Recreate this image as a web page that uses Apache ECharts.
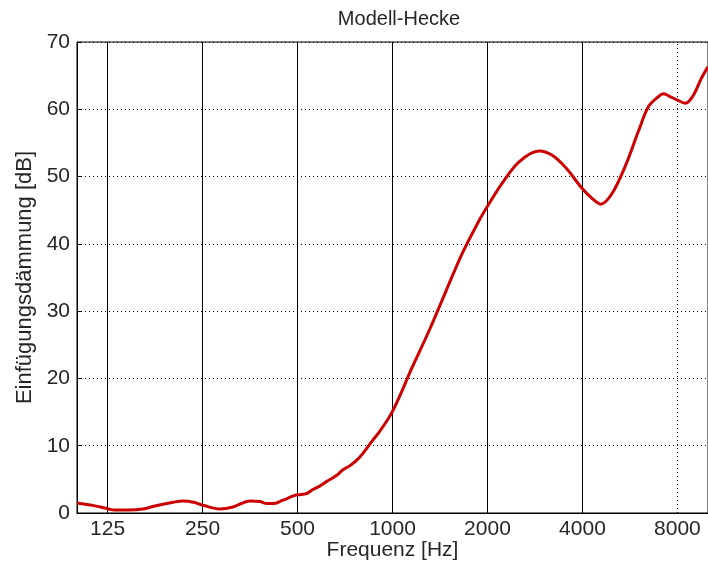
<!DOCTYPE html>
<html>
<head>
<meta charset="utf-8">
<script src="https://cdn.jsdelivr.net/npm/echarts@6/dist/echarts.min.js"></script>
<style>
html,body{margin:0;padding:0;background:#fff;}
#chart{width:708px;height:572px;}
</style>
</head>
<body>
<div id="chart"></div>
<script>
// Frequencies in Hz
const freq = [100, 113, 126, 131, 145, 162, 175, 202, 217, 234, 251, 284, 312, 354, 380, 400, 418, 449, 483, 500,
  535, 559, 588, 619, 666, 695, 732, 787, 865, 910, 1000, 1156, 1309, 1481, 1664, 1883, 2000, 2225, 2519, 2912,
  3200, 3544, 3981, 4281, 4571, 4952, 5483, 6026, 6478, 6969, 7230, 7496, 8061, 8484, 8990, 9526, 10000];
// Einfügungsdämmung in dB
const insertionLoss = [1.5, 1.1, 0.6, 0.45, 0.45, 0.6, 1.0, 1.6, 1.8, 1.6, 1.15, 0.6, 0.9, 1.8, 1.7, 1.4, 1.4, 1.9, 2.5, 2.7,
  2.9, 3.5, 4.0, 4.7, 5.6, 6.4, 7.0, 8.3, 10.8, 12.1, 15.1, 21.7, 27.2, 33.1, 38.6, 43.5, 45.6, 49.0, 52.2, 53.8,
  53.2, 51.3, 48.3, 46.8, 45.9, 47.4, 51.7, 56.8, 60.4, 61.9, 62.3, 62.0, 61.3, 60.9, 62.1, 64.6, 66.3];
// Octave tick positions and labels
const xTicks = [125, 250, 500, 1000, 2000, 4000, 8000];
const xTickLabels = ['125', '250', '500', '1000', '2000', '4000', '8000'];

const FONT = "'Liberation Sans', Arial, sans-serif";
const TXT = '#262626';

const chart = echarts.init(document.getElementById('chart'), null, {renderer: 'canvas'});

const markData = xTicks.map((v, i) => ({
  name: xTickLabels[i],
  xAxis: v,
  lineStyle: v === 8000 ? {type: [1, 3], color: '#000', width: 1} : {type: 'solid', color: '#000', width: 1}
}));

chart.setOption({
  animation: false,
  backgroundColor: '#fff',
  title: {
    text: 'Modell-Hecke',
    left: 394,
    textAlign: 'center',
    top: 4,
    textStyle: {fontFamily: FONT, fontSize: 20, fontWeight: 'normal', color: TXT}
  },
  grid: {
    left: 77, right: -3, top: 42, bottom: 59,
    show: true, borderColor: '#000', borderWidth: 1, backgroundColor: '#fff'
  },
  xAxis: {
    type: 'log',
    logBase: 10,
    min: 100,
    max: 10000,
    name: 'Frequenz [Hz]',
    nameLocation: 'middle',
    nameGap: 27,
    nameTextStyle: {fontFamily: FONT, fontSize: 21, color: TXT},
    axisLine: {show: true, lineStyle: {color: '#000', width: 1}},
    axisTick: {show: false},
    axisLabel: {show: false},
    splitLine: {show: false},
    minorTick: {show: false}
  },
  yAxis: {
    type: 'value',
    min: 0,
    max: 70,
    interval: 10,
    name: 'Einfügungsdämmung [dB]',
    nameLocation: 'middle',
    nameGap: 41,
    nameRotate: 90,
    nameTextStyle: {fontFamily: FONT, fontSize: 22, color: TXT},
    axisLine: {show: true, lineStyle: {color: '#000', width: 1}},
    axisTick: {show: true, inside: true, length: 5, lineStyle: {color: '#000'}},
    axisLabel: {margin: 7, fontFamily: FONT, fontSize: 21, color: TXT},
    splitLine: {show: true, lineStyle: {color: '#000', width: 1, type: [1, 3]}}
  },
  series: [{
    type: 'line',
    data: freq.map((f, i) => [f, insertionLoss[i]]),
    smooth: 0.35,
    showSymbol: false,
    symbol: 'none',
    lineStyle: {color: '#cc0000', width: 3},
    itemStyle: {color: '#cc0000'},
    z: 5,
    markLine: {
      silent: true,
      symbol: 'none',
      animation: false,
      z: 2,
      label: {
        show: true,
        position: 'start',
        formatter: '{b}',
        distance: 6,
        fontFamily: FONT,
        fontSize: 21,
        color: TXT
      },
      emphasis: {disabled: true},
      data: markData
    }
  }]
});
</script>
</body>
</html>
